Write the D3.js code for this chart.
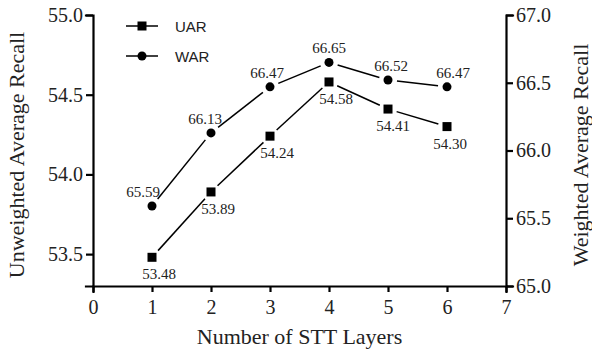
<!DOCTYPE html>
<html lang="en">
<head>
<meta charset="UTF-8">
<title>UAR / WAR vs STT layers</title>
<script src="https://d3js.org/d3.v7.min.js"></script>
<style>
  body { margin: 0; background: #fff; }
  .axis path, .axis line { stroke: #000; stroke-width: 2.2px; }
</style>
</head>
<body>
<svg width="592" height="352"></svg>
<script>
// data
const layers = [1, 2, 3, 4, 5, 6];
const uar = [53.48, 53.89, 54.24, 54.58, 54.41, 54.30];
const war = [65.59, 66.13, 66.47, 66.65, 66.52, 66.47];
const xTicks = [0, 1, 2, 3, 4, 5, 6, 7];
const leftTicks = [53.5, 54.0, 54.5, 55.0];
const rightTicks = [65.0, 65.5, 66.0, 66.5, 67.0];

const serif = "'Liberation Serif', 'Times New Roman', Times, serif";
const sans = "'Liberation Sans', Arial, Helvetica, sans-serif";

const svg = d3.select("svg");
const m = { left: 93, right: 506, top: 15, bottom: 286 };

const x = d3.scaleLinear().domain([0, 7]).range([m.left, m.right]);
const yL = d3.scaleLinear().domain([53.3, 55.0]).range([m.bottom, m.top]);
const yR = d3.scaleLinear().domain([65.0, 67.0]).range([m.bottom, m.top]);

function styleAxis(g) {
  g.attr("font-family", serif).attr("font-size", 20);
  g.selectAll("text").style("font-family", serif).style("font-size", "20px").attr("fill", "#222");
}

// axes
svg.append("g").attr("class", "axis")
    .attr("transform", `translate(0,${m.bottom})`)
    .call(d3.axisBottom(x).tickValues(xTicks).tickFormat(d3.format("d")).tickSizeOuter(0).tickSize(6).tickPadding(8))
    .call(styleAxis);

svg.append("g").attr("class", "axis")
    .attr("transform", `translate(${m.left},0)`)
    .call(d3.axisLeft(yL).tickValues(leftTicks).tickFormat(d3.format(".1f")).tickSizeOuter(0).tickSize(7).tickPadding(3))
    .call(styleAxis);

svg.append("g").attr("class", "axis")
    .attr("transform", `translate(${m.right},0)`)
    .call(d3.axisRight(yR).tickValues(rightTicks).tickFormat(d3.format(".1f")).tickSizeOuter(0).tickSize(7).tickPadding(3))
    .call(styleAxis);

svg.selectAll(".axis .domain").attr("stroke-linecap", "square");

// titles
function title(sel) {
  return sel.style("font-family", serif).style("font-size", "22px").attr("fill", "#222").attr("text-anchor", "middle");
}
svg.append("text").call(title)
    .attr("x", x(3.5)).attr("y", 344)
    .text("Number of STT Layers");
svg.append("text").call(title)
    .attr("transform", `translate(24,155) rotate(-90)`)
    .text("Unweighted Average Recall");
svg.append("text").call(title)
    .attr("transform", `translate(588,155) rotate(-90)`)
    .text("Weighted Average Recall");

// connecting lines with a gap at each marker
function gapLines(vals, y) {
  const gap = 9;
  const segs = [];
  for (let i = 0; i < vals.length - 1; i++) {
    const x1 = x(layers[i]), y1 = y(vals[i]);
    const x2 = x(layers[i + 1]), y2 = y(vals[i + 1]);
    const len = Math.hypot(x2 - x1, y2 - y1);
    const ux = (x2 - x1) / len, uy = (y2 - y1) / len;
    segs.push([x1 + ux * gap, y1 + uy * gap, x2 - ux * gap, y2 - uy * gap]);
  }
  svg.append("g").selectAll("line").data(segs).join("line")
      .attr("x1", d => d[0]).attr("y1", d => d[1])
      .attr("x2", d => d[2]).attr("y2", d => d[3])
      .attr("stroke", "#000").attr("stroke-width", 1.5);
}
gapLines(uar, yL);
gapLines(war, yR);

// markers
svg.append("g").selectAll("rect").data(uar).join("rect")
    .attr("x", (d, i) => x(layers[i]) - 4.5).attr("y", d => yL(d) - 4.5)
    .attr("width", 9).attr("height", 9).attr("fill", "#000");
svg.append("g").selectAll("circle").data(war).join("circle")
    .attr("cx", (d, i) => x(layers[i])).attr("cy", d => yR(d))
    .attr("r", 4.5).attr("fill", "#000");

// value labels
function lbl(sel) {
  return sel.style("font-family", serif).style("font-size", "15px").attr("fill", "#222").attr("text-anchor", "middle");
}
svg.append("g").selectAll("text").data(uar).join("text").call(lbl)
    .attr("x", (d, i) => x(layers[i]) + 7 - Math.max(0, i - 3) * 2)
    .attr("y", d => yL(d) + 22)
    .text(d => d3.format(".2f")(d));
svg.append("g").selectAll("text").data(war).join("text").call(lbl)
    .attr("x", (d, i) => x(layers[i]) - 9 + i * 3)
    .attr("y", d => yR(d) - 9)
    .text(d => d3.format(".2f")(d));

// legend
const leg = svg.append("g");
const items = [["UAR", "square"], ["WAR", "circle"]];
items.forEach(([name, shape], i) => {
  const ly = 26 + i * 30;
  leg.append("line").attr("x1", 126).attr("x2", 158).attr("y1", ly).attr("y2", ly)
      .attr("stroke", "#000").attr("stroke-width", 1.5);
  if (shape === "square") {
    leg.append("rect").attr("x", 142 - 4.5).attr("y", ly - 4.5).attr("width", 9).attr("height", 9);
  } else {
    leg.append("circle").attr("cx", 142).attr("cy", ly).attr("r", 4.5);
  }
  leg.append("text").attr("x", 175).attr("y", ly + 5.5)
      .style("font-family", sans).style("font-size", "15px").attr("fill", "#222")
      .text(name);
});
</script>
</body>
</html>
